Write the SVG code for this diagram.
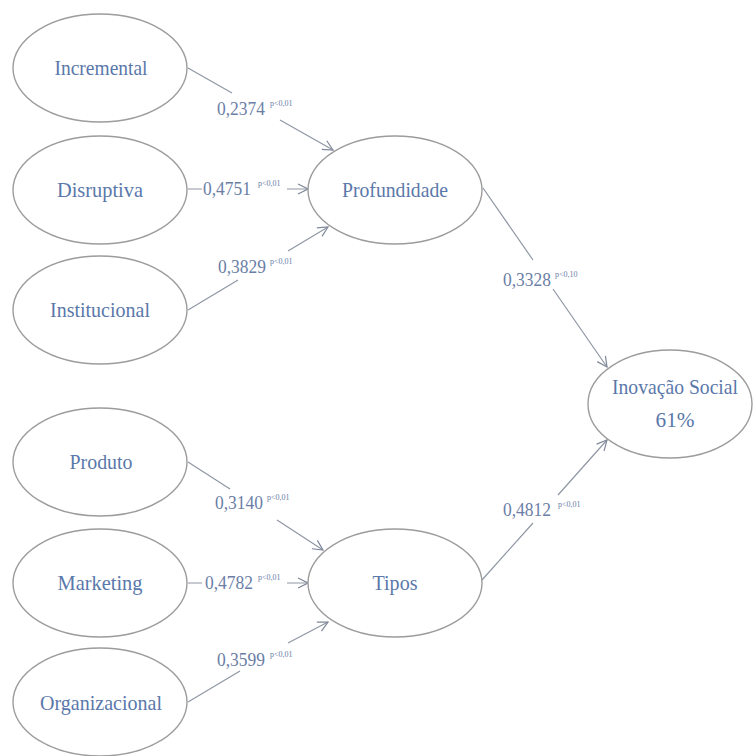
<svg xmlns="http://www.w3.org/2000/svg" width="754" height="756" viewBox="0 0 754 756" font-family="'Liberation Serif', 'DejaVu Serif', serif">
  <style>
    .node ellipse { fill: #ffffff; stroke: #9c9c9c; stroke-width: 1.4; }
    .node text { font-family: 'Liberation Serif', 'DejaVu Serif', serif; font-size: 21px; fill: #5a78aa; text-anchor: middle; }
    .edge { fill: none; stroke: #8f96a4; stroke-width: 1.2; }
    .coef { font-family: 'Liberation Serif', 'DejaVu Serif', serif; font-size: 18px; fill: #6a7ea6; }
    .sig { font-family: 'Liberation Serif', 'DejaVu Serif', serif; font-size: 8px; fill: #6a7ea6; }
  </style>
  <defs>
    <marker id="arrow" viewBox="0 0 12 12" refX="11" refY="6" markerWidth="12" markerHeight="12" markerUnits="userSpaceOnUse" orient="auto">
      <path d="M1,1 L11,6 L1,11" fill="none" stroke="#7f8798" stroke-width="1.2"/>
    </marker>
  </defs>
  <rect width="754" height="756" fill="#ffffff"/>

  <!-- connectors: each path is split where its coefficient label sits -->
  <g id="connectors">
    <path class="edge" d="M188,68 L232,93 M280,120 L333,150" marker-end="url(#arrow)"/>
    <path class="edge" d="M188,189 L202,189 M287,189 L308,189" marker-end="url(#arrow)"/>
    <path class="edge" d="M188,310 L238,280 M288,251 L328,227" marker-end="url(#arrow)"/>
    <path class="edge" d="M188,462 L230,489 M277,520 L323,550" marker-end="url(#arrow)"/>
    <path class="edge" d="M188,583 L202,583 M287,583 L308,583" marker-end="url(#arrow)"/>
    <path class="edge" d="M188,702 L240,671 M288,643 L328,622" marker-end="url(#arrow)"/>
    <path class="edge" d="M483,188 L533,260 M553,289 L607,367" marker-end="url(#arrow)"/>
    <path class="edge" d="M482,580 L533,523 M558,495 L607,440" marker-end="url(#arrow)"/>

    <g id="edge-labels">
      <text class="coef" x="217" y="115" textLength="48" lengthAdjust="spacingAndGlyphs">0,2374</text><text class="sig" x="270" y="106">p&lt;0,01</text>
      <text class="coef" x="203" y="195" textLength="48" lengthAdjust="spacingAndGlyphs">0,4751</text><text class="sig" x="258" y="186">p&lt;0,01</text>
      <text class="coef" x="218" y="273" textLength="48" lengthAdjust="spacingAndGlyphs">0,3829</text><text class="sig" x="270" y="264">p&lt;0,01</text>
      <text class="coef" x="215" y="509" textLength="48" lengthAdjust="spacingAndGlyphs">0,3140</text><text class="sig" x="267" y="500">p&lt;0,01</text>
      <text class="coef" x="205" y="589" textLength="48" lengthAdjust="spacingAndGlyphs">0,4782</text><text class="sig" x="258" y="580">p&lt;0,01</text>
      <text class="coef" x="217" y="666" textLength="48" lengthAdjust="spacingAndGlyphs">0,3599</text><text class="sig" x="270" y="657">p&lt;0,01</text>
      <text class="coef" x="503" y="286" textLength="48" lengthAdjust="spacingAndGlyphs">0,3328</text><text class="sig" x="555" y="277">p&lt;0,10</text>
      <text class="coef" x="503" y="516" textLength="48" lengthAdjust="spacingAndGlyphs">0,4812</text><text class="sig" x="558" y="507">p&lt;0,01</text>
    </g>
  </g>

  <!-- depth dimensions -->
  <g id="incremental" class="node">
    <ellipse cx="100" cy="68" rx="87" ry="54"/>
    <text x="101" y="75" textLength="93" lengthAdjust="spacingAndGlyphs">Incremental</text>
  </g>
  <g id="disruptiva" class="node">
    <ellipse cx="100" cy="190" rx="87" ry="54"/>
    <text x="100" y="197" textLength="86" lengthAdjust="spacingAndGlyphs">Disruptiva</text>
  </g>
  <g id="institucional" class="node">
    <ellipse cx="100" cy="310" rx="87" ry="54"/>
    <text x="100" y="317" textLength="100" lengthAdjust="spacingAndGlyphs">Institucional</text>
  </g>

  <!-- type dimensions -->
  <g id="produto" class="node">
    <ellipse cx="100" cy="462" rx="87" ry="54"/>
    <text x="101" y="469" textLength="63" lengthAdjust="spacingAndGlyphs">Produto</text>
  </g>
  <g id="marketing" class="node">
    <ellipse cx="100" cy="583" rx="87" ry="54"/>
    <text x="100" y="590" textLength="85" lengthAdjust="spacingAndGlyphs">Marketing</text>
  </g>
  <g id="organizacional" class="node">
    <ellipse cx="100" cy="702" rx="87" ry="54"/>
    <text x="101" y="710" textLength="122" lengthAdjust="spacingAndGlyphs">Organizacional</text>
  </g>

  <!-- second-order constructs -->
  <g id="profundidade" class="node">
    <ellipse cx="395" cy="190" rx="87" ry="54"/>
    <text x="395" y="197" textLength="106" lengthAdjust="spacingAndGlyphs">Profundidade</text>
  </g>
  <g id="tipos" class="node">
    <ellipse cx="395" cy="583" rx="87" ry="54"/>
    <text x="395" y="590" textLength="45" lengthAdjust="spacingAndGlyphs">Tipos</text>
  </g>

  <!-- outcome -->
  <g id="inovacao-social" class="node">
    <ellipse cx="670" cy="404" rx="82" ry="54"/>
    <text x="675" y="394" textLength="126" lengthAdjust="spacingAndGlyphs">Inovação Social</text>
    <text x="675" y="427" textLength="39" lengthAdjust="spacingAndGlyphs">61%</text>
  </g>
</svg>
